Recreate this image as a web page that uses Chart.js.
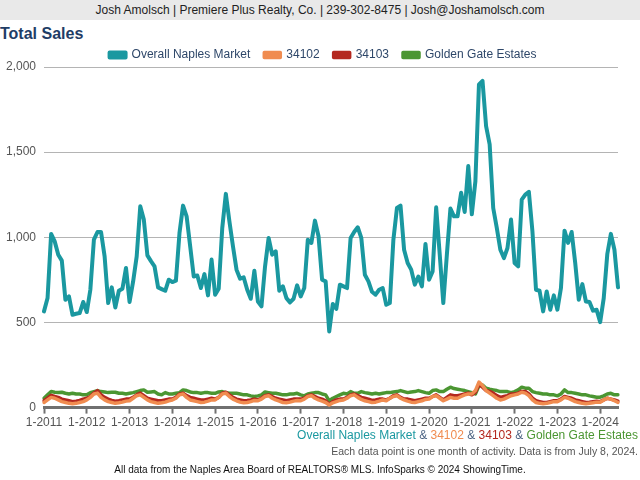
<!DOCTYPE html>
<html>
<head>
<meta charset="utf-8">
<script src="https://cdn.jsdelivr.net/npm/chart.js"></script>
<style>
  body { margin: 0; width: 640px; height: 480px; background: #fff; position: relative; overflow: hidden;
         font-family: "Liberation Sans", Arial, sans-serif; }
  #header { position: absolute; left: 0; top: 0; width: 640px; height: 20px; background: #e9e9e9;
            color: #222; font-size: 12px; line-height: 20px; text-align: center; }
  #title { position: absolute; left: 0; top: 25px; font-size: 16px; font-weight: bold; color: #1f3d66; }
  #box { position: absolute; left: 0; top: 35px; width: 640px; height: 397px; }
  #series { position: absolute; right: 2px; top: 428px; font-size: 12px; color: #4a6282; }
  #note { position: absolute; right: 2px; top: 445px; font-size: 10.5px; color: #555; }
  #source { position: absolute; left: 0; width: 640px; top: 464px; text-align: center; font-size: 10px; color: #111; }
</style>
</head>
<body>
<div id="header">Josh Amolsch | Premiere Plus Realty, Co. | 239-302-8475 | Josh@Joshamolsch.com</div>
<div id="title">Total Sales</div>
<div id="box"><canvas id="salesChart"></canvas></div>
<div id="series"><span style="color:#1a98a0">Overall Naples Market</span> &amp; <span style="color:#f08c50">34102</span> &amp; <span style="color:#b4281f">34103</span> &amp; <span style="color:#4b9632">Golden Gate Estates</span></div>
<div id="note">Each data point is one month of activity. Data is from July 8, 2024.</div>
<div id="source">All data from the Naples Area Board of REALTORS® MLS. InfoSparks © 2024 ShowingTime.</div>
<script>
// months 1-2011 .. 6-2024
const years = [2011, 2012, 2013, 2014, 2015, 2016, 2017, 2018, 2019, 2020, 2021, 2022, 2023, 2024];
const months = [];
years.forEach(y => {
  for (let m = 1; m <= 12; m++) {
    if (y === 2024 && m > 6) break;
    months.push(m + '-' + y);
  }
});

const naples = [
  565, 643, 1020, 976, 898, 863, 633, 653, 545, 551, 555, 620,
  561, 692, 986, 1031, 1031, 888, 614, 706, 588, 686, 698, 820,
  620, 741, 888, 1182, 1104, 894, 860, 829, 706, 696, 686, 751,
  737, 745, 1025, 1186, 1123, 947, 770, 776, 702, 784, 659, 869,
  663, 698, 1055, 1255, 1094, 947, 810, 757, 765, 692, 639, 804,
  623, 594, 829, 996, 898, 918, 686, 712, 643, 618, 639, 718,
  653, 702, 986, 967, 1098, 1006, 751, 741, 447, 608, 580, 722,
  712, 702, 996, 1031, 1059, 996, 780, 741, 680, 663, 692, 702,
  604, 614, 986, 1172, 1186, 927, 849, 810, 722, 770, 712, 961,
  751, 800, 1176, 898, 614, 898, 1169, 1123, 1123, 1261, 1149, 1418,
  1135, 1329, 1898, 1918, 1653, 1545, 1172, 1055, 927, 878, 937, 1104,
  849, 829, 1221, 1251, 1267, 1035, 692, 686, 565, 682, 575, 659,
  575, 702, 1039, 967, 1031, 849, 633, 725, 623, 620, 569, 575,
  502, 643, 902, 1020, 927, 706
];
const zip34102 = [
  30, 45, 60, 55, 45, 35, 30, 25, 22, 25, 30, 35,
  45, 60, 80, 85, 60, 45, 35, 30, 25, 28, 32, 38,
  40, 55, 70, 75, 60, 45, 35, 30, 25, 28, 32, 40,
  45, 55, 75, 80, 60, 45, 40, 35, 30, 32, 38, 45,
  45, 60, 80, 85, 65, 50, 40, 32, 28, 30, 35, 42,
  40, 50, 65, 70, 55, 45, 38, 30, 28, 32, 38, 42,
  40, 50, 65, 70, 55, 45, 38, 30, 15, 28, 35, 42,
  45, 55, 70, 75, 60, 48, 40, 35, 30, 32, 38, 45,
  40, 55, 65, 70, 55, 45, 38, 32, 30, 35, 40, 48,
  50, 65, 70, 55, 40, 50, 60, 55, 55, 65, 75, 80,
  80, 100, 150, 130, 100, 85, 70, 55, 45, 50, 60, 70,
  75, 80, 90, 85, 70, 45, 30, 25, 22, 25, 30, 35,
  35, 45, 60, 55, 45, 35, 30, 25, 22, 25, 28, 32,
  32, 45, 55, 50, 40, 30
];
const zip34103 = [
  40, 55, 72, 65, 60, 50, 45, 40, 35, 38, 42, 50,
  55, 65, 85, 100, 75, 60, 50, 42, 38, 40, 45, 50,
  50, 60, 75, 85, 70, 55, 50, 45, 40, 40, 45, 50,
  50, 60, 80, 85, 70, 60, 55, 50, 45, 45, 50, 55,
  50, 60, 85, 90, 75, 60, 50, 45, 40, 42, 45, 50,
  45, 55, 70, 75, 65, 55, 50, 45, 40, 45, 50, 50,
  50, 55, 70, 75, 65, 55, 50, 40, 20, 35, 45, 50,
  50, 60, 75, 80, 70, 60, 55, 50, 42, 45, 50, 50,
  45, 55, 70, 75, 60, 50, 50, 45, 40, 45, 50, 55,
  55, 65, 75, 60, 45, 60, 75, 70, 70, 75, 80, 85,
  75, 90, 135, 120, 100, 95, 85, 70, 60, 65, 70, 80,
  80, 85, 95, 95, 80, 55, 40, 35, 30, 30, 35, 40,
  40, 50, 65, 60, 55, 45, 40, 35, 30, 32, 35, 38,
  35, 45, 55, 50, 45, 38
];
const goldenGate = [
  55, 75, 94, 90, 88, 90, 84, 80, 84, 80, 80, 75,
  75, 88, 94, 100, 94, 92, 88, 90, 90, 84, 84, 80,
  84, 88, 94, 100, 104, 90, 92, 94, 80, 75, 88, 80,
  80, 84, 88, 104, 100, 92, 88, 88, 84, 88, 88, 84,
  84, 92, 94, 88, 84, 84, 84, 80, 75, 75, 69, 65,
  69, 75, 92, 88, 84, 84, 80, 75, 75, 80, 80, 84,
  75, 69, 80, 84, 88, 88, 80, 75, 40, 55, 65, 75,
  84, 80, 94, 84, 84, 94, 88, 84, 80, 84, 80, 84,
  88, 88, 92, 94, 100, 94, 88, 92, 94, 100, 94, 88,
  84, 100, 104, 94, 94, 108, 120, 112, 108, 104, 100, 94,
  88, 80, 128, 133, 114, 108, 104, 100, 94, 94, 94, 88,
  94, 104, 120, 114, 114, 94, 88, 84, 80, 80, 75, 75,
  69, 80, 104, 88, 88, 84, 80, 75, 75, 69, 65, 61,
  61, 69, 80, 84, 75, 75
];

const yTicks = [0, 500, 1000, 1500, 2000];

function line(label, values, color, width) {
  return {
    label: label,
    data: values,
    borderColor: color,
    backgroundColor: color,
    borderWidth: width,
    pointRadius: 0,
    tension: 0,
    borderJoinStyle: 'round',
    borderCapStyle: 'round'
  };
}

// legend box is a bit tall by default, pull the plot closer to it
const tightLegend = {
  id: 'tightLegend',
  beforeLayout(chart) {
    const legend = chart.legend;
    if (legend && !legend._tight) {
      const fit = legend.fit;
      legend.fit = function () { fit.call(this); this.height -= 4; };
      legend._tight = true;
    }
  }
};

new Chart(document.getElementById('salesChart'), {
  type: 'line',
  data: {
    labels: months,
    datasets: [
      line('Overall Naples Market', naples, '#1a98a0', 4),
      line('34102', zip34102, '#f08c50', 3.5),
      line('34103', zip34103, '#b4281f', 3.5),
      line('Golden Gate Estates', goldenGate, '#4b9632', 3.5)
    ]
  },
  plugins: [tightLegend],
  options: {
    responsive: true,
    maintainAspectRatio: false,
    animation: false,
    layout: { padding: { left: 6, right: 0, top: 0, bottom: 0 } },
    plugins: {
      legend: {
        position: 'top',
        labels: {
          boxWidth: 16,
          boxHeight: 5,
          padding: 14,
          color: '#2e4769',
          font: { family: 'Liberation Sans', size: 12 }
        }
      },
      tooltip: { enabled: false }
    },
    scales: {
      x: {
        offset: false,
        grid: { drawOnChartArea: false, drawTicks: true, tickLength: 6, tickColor: '#707070', tickWidth: 2 },
        border: { color: '#707070', width: 3 },
        ticks: {
          autoSkip: false,
          maxRotation: 0,
          padding: 2,
          color: '#555',
          font: { family: 'Liberation Sans', size: 12 },
          callback: function (value) {
            const lab = this.getLabelForValue(value);
            return lab.startsWith('1-') ? lab : null;
          }
        }
      },
      y: {
        min: 0,
        max: 2000,
        afterBuildTicks: axis => { axis.ticks = yTicks.map(v => ({ value: v })); },
        afterFit: axis => { axis.width = 38; },
        grid: { color: '#b4b4b4', lineWidth: 1, drawTicks: false },
        border: { display: false },
        ticks: {
          padding: 8,
          color: '#555',
          font: { family: 'Liberation Sans', size: 12 },
          callback: v => v.toLocaleString('en-US')
        }
      },
      // empty right-hand strip, keeps the plot clear of the right edge
      yRight: {
        position: 'right',
        min: 0,
        max: 2000,
        afterFit: axis => { axis.width = 22; },
        grid: { drawOnChartArea: false, drawTicks: false },
        border: { display: false },
        ticks: { display: false }
      }
    }
  }
});
</script>
</body>
</html>
